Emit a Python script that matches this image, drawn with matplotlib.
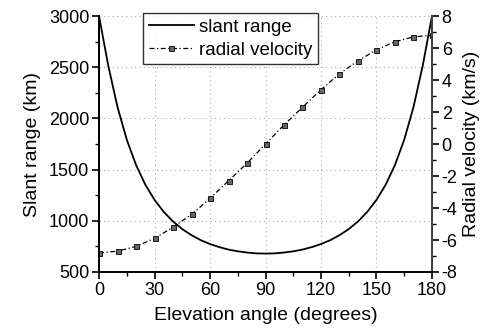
import numpy as np
import matplotlib.pyplot as plt
from matplotlib.ticker import MultipleLocator

plt.rcParams['font.family'] = ['Liberation Sans', 'DejaVu Sans']
plt.rcParams['axes.unicode_minus'] = False

# slant range vs elevation, every 5 degrees
elev = [0, 5, 10, 15, 20, 25, 30, 35, 40, 45, 50, 55, 60, 65, 70, 75, 80, 85, 90,
        95, 100, 105, 110, 115, 120, 125, 130, 135, 140, 145, 150, 155, 160, 165, 170, 175, 180]
slant = [3000, 2516, 2111, 1793, 1546, 1354, 1205, 1087, 994, 919, 860, 811, 773, 743, 719, 702, 690, 682, 680,
         682, 690, 702, 719, 743, 773, 811, 860, 919, 994, 1087, 1205, 1354, 1546, 1793, 2111, 2516, 3000]

# radial velocity samples, every 10 degrees
elev_v = [0, 10, 20, 30, 40, 50, 60, 70, 80, 90, 100, 110, 120, 130, 140, 150, 160, 170, 180]
vel = [-6.8, -6.7, -6.4, -5.9, -5.2, -4.4, -3.4, -2.3, -1.2, 0.0,
       1.2, 2.3, 3.4, 4.4, 5.2, 5.9, 6.4, 6.7, 6.8]

fig = plt.figure(figsize=(4.89, 3.36), dpi=100)
ax1 = fig.add_axes([0.2025, 0.1905, 0.6809, 0.7615])
ax2 = ax1.twinx()

l1, = ax1.plot(elev, slant, color='black', lw=1.3, label='slant range')
l2, = ax2.plot(elev_v, vel, color='black', lw=0.9, linestyle=(0, (4, 2, 1, 2)),
               marker='s', markersize=3.6, markerfacecolor='#666666',
               markeredgecolor='black', markeredgewidth=0.6, label='radial velocity')

ax1.set_xlim(0, 180)
ax1.set_ylim(500, 3000)
ax2.set_ylim(-8, 8)
ax1.xaxis.set_major_locator(MultipleLocator(30))
ax1.xaxis.set_minor_locator(MultipleLocator(15))
ax1.yaxis.set_major_locator(MultipleLocator(500))
ax1.yaxis.set_minor_locator(MultipleLocator(250))
ax2.yaxis.set_major_locator(MultipleLocator(2))
ax2.yaxis.set_minor_locator(MultipleLocator(1))

ax1.grid(True, which='major', color='#aaaaaa', linestyle=(0, (1, 3)), lw=0.8)

for ax in (ax1, ax2):
    ax.spines['top'].set_visible(False)
    for s in ('left', 'right', 'bottom'):
        ax.spines[s].set_linewidth(1.4)
    ax.tick_params(which='major', direction='out', length=5, width=1.2, labelsize=13, pad=2)
    ax.tick_params(which='minor', direction='out', length=3, width=1.0)
ax2.spines['right'].set_color('#444444')

ax1.set_xlabel('Elevation angle (degrees)', fontsize=14, labelpad=6)
ax1.set_ylabel('Slant range (km)', fontsize=14, labelpad=6)
ax2.set_ylabel('Radial velocity (km/s)', fontsize=14, labelpad=4)

leg = fig.legend(handles=[l1, l2], loc='upper left', bbox_to_anchor=(0.2924, 0.9613),
                 fontsize=13.5, frameon=True, fancybox=False, handlelength=2.4,
                 borderpad=0.3, labelspacing=0.3, handletextpad=0.3, borderaxespad=0)
leg.get_frame().set_edgecolor('black')
leg.get_frame().set_linewidth(1.0)

fig.savefig('out.png', dpi=100)
